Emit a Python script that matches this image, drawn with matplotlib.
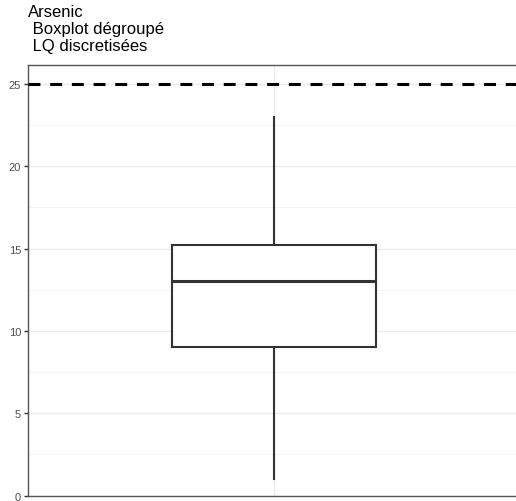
import matplotlib
matplotlib.use("Agg")
import matplotlib.pyplot as plt
from matplotlib.ticker import MultipleLocator

plt.rcParams['font.family'] = ['Liberation Sans', 'DejaVu Sans']

# Data (box statistics)
title_lines = ["Arsenic", " Boxplot dégroupé", " LQ discretisées"]
whislo, q1, med, q3, whishi = 1.0, 9.0, 13.0, 15.2, 23.0
threshold = 25
y_ticks = [0, 5, 10, 15, 20, 25]

W, H = 516, 502
fig = plt.figure(figsize=(W / 100, H / 100), dpi=100)
left, right, top, bottom = 28, 520, 66, 497
ax = fig.add_axes([left / W, (H - bottom) / H, (right - left) / W, (bottom - top) / H])

stats = [dict(whislo=whislo, q1=q1, med=med, q3=q3, whishi=whishi, fliers=[])]
ax.bxp(stats, positions=[1], widths=[0.415], showcaps=False, patch_artist=True,
       boxprops=dict(facecolor='white', edgecolor='#333333', linewidth=1.5),
       medianprops=dict(color='#333333', linewidth=2.2),
       whiskerprops=dict(color='#333333', linewidth=1.5),
       zorder=3)

ax.axhline(threshold, color='black', lw=2.2, ls=(0, (3.9, 3.2)), zorder=4)

ax.set_xlim(0.5, 1.5)
ax.set_ylim(-0.03, 26.15)
ax.set_yticks(y_ticks)
ax.yaxis.set_minor_locator(MultipleLocator(2.5))
ax.set_xticks([1])
ax.set_xticklabels([])
ax.tick_params(axis='x', length=0)
ax.tick_params(axis='y', which='major', length=3, width=1, color='#333333',
               labelsize=8, labelcolor='#4d4d4d', pad=2)
ax.tick_params(axis='y', which='minor', length=0)
ax.grid(True, which='major', color='#ebebeb', lw=1.0, zorder=0)
ax.grid(True, which='minor', axis='y', color='#f2f2f2', lw=0.6, zorder=0)
ax.set_axisbelow(True)
for s in ['left', 'bottom', 'top', 'right']:
    ax.spines[s].set_color('#555555')
    ax.spines[s].set_linewidth(1.0)

baselines = [17, 34, 51]
for line, yb in zip(title_lines, baselines):
    fig.text(28 / W, 1 - yb / H, line, ha='left', va='baseline',
             fontsize=12, color='black')

fig.savefig("out.png", dpi=100)
